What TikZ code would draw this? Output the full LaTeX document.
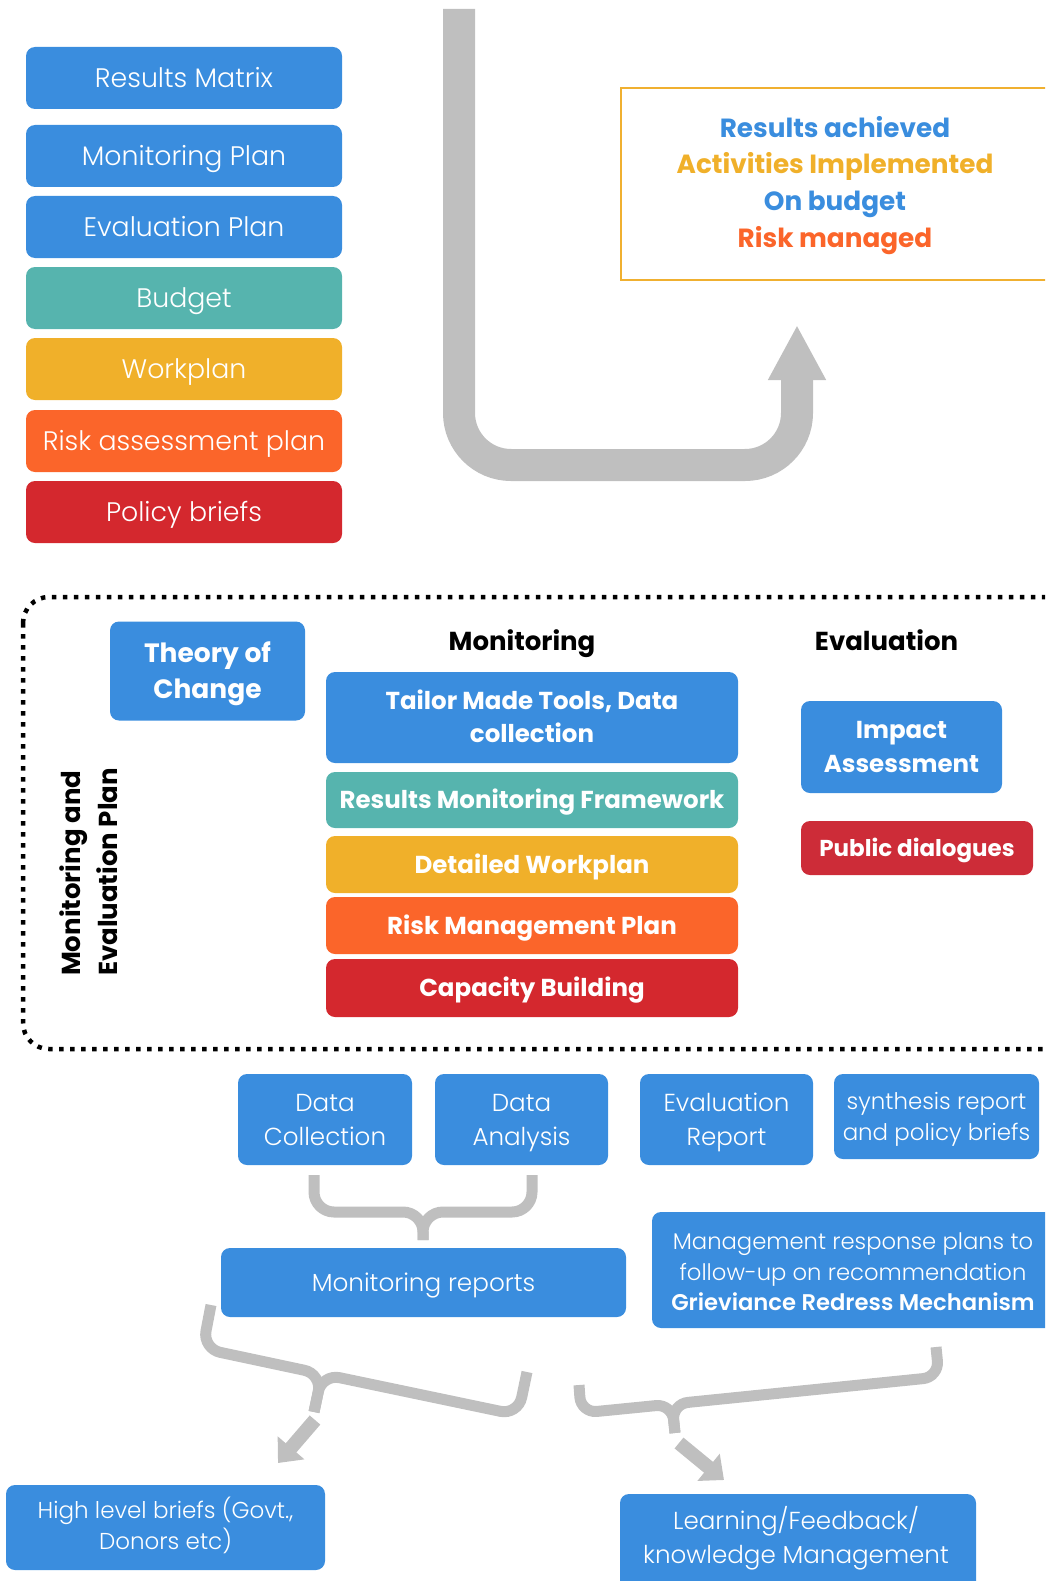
\documentclass[tikz,border=0pt]{standalone}
\usepackage{fontspec}
\setmainfont{Poppins}
\IfFontExistsTF{Poppins Light}{\newfontfamily\plight{Poppins Light}}{\newfontfamily\plight{Poppins}}
\usetikzlibrary{arrows.meta}
\definecolor{cblue}{HTML}{3A8DDE}
\definecolor{cteal}{HTML}{56B4AE}
\definecolor{cyellow}{HTML}{F0B02A}
\definecolor{corange}{HTML}{FB652A}
\definecolor{cred}{HTML}{D4282E}
\definecolor{cred2}{HTML}{CD2C38}
\definecolor{cgray}{HTML}{BFBFBF}
\definecolor{cgold}{HTML}{F0B030}
\tikzset{
  box/.style={rounded corners=9pt, inner sep=0pt, text=white, align=center},
  lt/.style={font=\plight\fontsize{26.8}{34}\selectfont, text height=22pt, text depth=3.2pt},
  bt/.style={font=\bfseries\fontsize{24.5}{34}\selectfont, text height=20pt, text depth=2.8pt},
  tw/.style={font=\plight\fontsize{24.6}{34}\selectfont, text height=54.2pt, text depth=3pt},
  hd/.style={font=\bfseries\fontsize{26}{30}\selectfont, text height=21pt, text depth=2.8pt},
  brace/.style={draw=cgray, line width=11pt, rounded corners=20pt},
  garrow/.style={draw=cgray, line width=14pt, -{Triangle[width=34pt,length=20pt]}},
}
\begin{document}
\begin{tikzpicture}[x=1pt,y=-1pt]
\useasboundingbox (0,0) rectangle (1045,1581);
\clip (0,0) rectangle (1045,1581);
% left stack
\node[box, lt, fill=cblue, minimum width=316pt, minimum height=62pt] (rm) at (184,78) {Results Matrix};
\node[box, lt, fill=cblue, minimum width=316pt, minimum height=62pt] (mp) at (184,156) {Monitoring Plan};
\node[box, lt, fill=cblue, minimum width=316pt, minimum height=62pt] (ep) at (184,227) {Evaluation Plan};
\node[box, lt, fill=cteal, minimum width=316pt, minimum height=62pt] (bu) at (184,298) {Budget};
\node[box, lt, fill=cyellow, minimum width=316pt, minimum height=62pt] (wp) at (184,369) {Workplan};
\node[box, lt, fill=corange, minimum width=316pt, minimum height=62pt] (ra) at (184,441) {Risk assessment plan};
\node[box, lt, fill=cred, minimum width=316pt, minimum height=62pt] (pb) at (184,512) {Policy briefs};
% U arrow
\coordinate (ua) at (459,9);
\coordinate (ub) at (459,465);
\coordinate (uc) at (797,465);
\coordinate (ud) at (797,325);
\draw[draw=cgray, line width=32pt, rounded corners=52pt, -{Triangle[width=54pt,length=55pt]}] (ua) -- (ub) -- (uc) -- (ud);
% goal box
\draw[draw=cgold, line width=2.5pt] (621,88) rectangle (1070,280);
\node[align=center, font=\bfseries\fontsize{26.3}{36.7}\selectfont, text height=131.5pt, text depth=3pt] (goal) at (835,183)
  {\textcolor{cblue}{Results achieved}\\\textcolor{cyellow}{Activities Implemented}\\\textcolor{cblue}{On budget}\\\textcolor{corange}{Risk managed}};
% dotted frame
\draw[line width=4.5pt, dash pattern=on 4.5pt off 6.5pt, rounded corners=26pt] (23,597) rectangle (1075,1049);
\node[rotate=90, align=left, font=\bfseries\fontsize{26}{37}\selectfont, text height=58.2pt, text depth=3pt] (mep) at (89.5,872) {Monitoring and\\Evaluation Plan};
\node[box, fill=cblue, minimum width=195pt, minimum height=99pt, font=\bfseries\fontsize{26.5}{36.4}\selectfont, text height=57.9pt, text depth=3pt] (toc) at (207.5,671) {Theory of\\Change};
\node[hd] (mon) at (522,641.5) {Monitoring};
\node[hd] (eva) at (886.5,641.5) {Evaluation};
\node[box, fill=cblue, minimum width=412pt, minimum height=91pt, font=\bfseries\fontsize{24.5}{33.3}\selectfont, text height=53.5pt, text depth=3pt] (tm) at (532,717.5) {Tailor Made Tools, Data\\collection};
\node[box, bt, fill=cteal, minimum width=412pt, minimum height=56pt] (rmf) at (532,800) {Results Monitoring Framework};
\node[box, bt, fill=cyellow, minimum width=412pt, minimum height=57pt] (dw) at (532,864.5) {Detailed Workplan};
\node[box, bt, fill=corange, minimum width=412pt, minimum height=57pt] (rmp) at (532,925.5) {Risk Management Plan};
\node[box, bt, fill=cred, minimum width=412pt, minimum height=58pt] (cb) at (532,988) {Capacity Building};
\node[box, fill=cblue, minimum width=201pt, minimum height=92pt, font=\bfseries\fontsize{24.5}{34.3}\selectfont, text height=54.5pt, text depth=3pt] (ia) at (901.5,747) {Impact\\Assessment};
\node[box, fill=cred2, minimum width=232pt, minimum height=54pt, font=\bfseries\fontsize{23}{30}\selectfont, text height=19pt, text depth=2.9pt] (pd) at (917,848) {Public dialogues};
% bottom row
\node[box, tw, fill=cblue, minimum width=174pt, minimum height=91pt] (dc) at (325,1119.5) {Data\\Collection};
\node[box, tw, fill=cblue, minimum width=173pt, minimum height=91pt] (da) at (521.5,1119.5) {Data\\Analysis};
\node[box, tw, fill=cblue, minimum width=173pt, minimum height=91pt] (er) at (726.5,1119.5) {Evaluation\\Report};
\node[box, fill=cblue, minimum width=205pt, minimum height=85pt, font=\plight\fontsize{22.9}{31}\selectfont, text height=50pt, text depth=3pt] (sr) at (936.5,1116.5) {synthesis report\\and policy briefs};
% brace 1
\coordinate (b1l) at (314,1175);
\coordinate (b1lc) at (314,1212);
\coordinate (b1c) at (423,1212);
\coordinate (b1s) at (423,1240);
\coordinate (b1r) at (532,1175);
\coordinate (b1rc) at (532,1212);
\draw[brace] (b1l) -- (b1lc) -- (b1c) -- (b1s);
\draw[brace] (b1r) -- (b1rc) -- (b1c) -- (b1s);
\node[box, fill=cblue, minimum width=405pt, minimum height=69pt, font=\plight\fontsize{24.7}{34}\selectfont, text height=20pt, text depth=2.7pt] (mr) at (423.5,1282.5) {Monitoring reports};
\node[box, fill=cblue, minimum width=420pt, minimum height=116pt] (mg) at (862,1270) {};
\node[align=center, text=white, font=\plight\fontsize{22.7}{30.6}\selectfont, text height=80.1pt, text depth=3pt] (mgt) at (853,1272.4) {Management response plans to\\follow-up on recommendation\\\textbf{Grieviance Redress Mechanism}};
% brace 2
\coordinate (b2l) at (211,1305);
\coordinate (b2lc) at (202.6,1348.6);
\coordinate (b2c) at (322,1374);
\coordinate (b2s) at (314,1412);
\coordinate (b2r) at (527,1372);
\coordinate (b2rc) at (518,1415);
\draw[brace, rounded corners=18pt] (b2l) -- (b2lc) -- (b2c) -- (b2s);
\draw[brace, rounded corners=18pt] (b2r) -- (b2rc) -- (b2c) -- (b2s);
% brace 3
\coordinate (b3l) at (579,1385);
\coordinate (b3lc) at (581,1413);
\coordinate (b3c) at (672,1404);
\coordinate (b3s) at (675,1433);
\coordinate (b3r) at (936,1347);
\coordinate (b3rc) at (939,1377);
\draw[brace, rounded corners=16pt] (b3l) -- (b3lc) -- (b3c) -- (b3s);
\draw[brace, rounded corners=16pt] (b3r) -- (b3rc) -- (b3c) -- (b3s);
% arrows
\coordinate (a1s) at (315,1420);
\coordinate (a1e) at (278,1463);
\coordinate (a2s) at (679,1443);
\coordinate (a2e) at (724,1480);
\draw[garrow] (a1s) -- (a1e);
\draw[garrow] (a2s) -- (a2e);
% final boxes
\node[box, fill=cblue, minimum width=319pt, minimum height=85pt] (hl) at (165.5,1527.5) {};
\node[align=center, text=white, font=\plight\fontsize{23}{31.3}\selectfont, text height=50.4pt, text depth=3pt] (hlt) at (165.5,1525.7) {High level briefs (Govt.,\\Donors etc)};
\node[box, fill=cblue, minimum width=356pt, minimum height=110pt] (lf) at (798,1549) {};
\node[align=center, text=white, font=\plight\fontsize{24.6}{34.3}\selectfont, text height=54.5pt, text depth=3pt] (lft) at (796,1538.2) {Learning/Feedback/\\knowledge Management};
\end{tikzpicture}
\end{document}
